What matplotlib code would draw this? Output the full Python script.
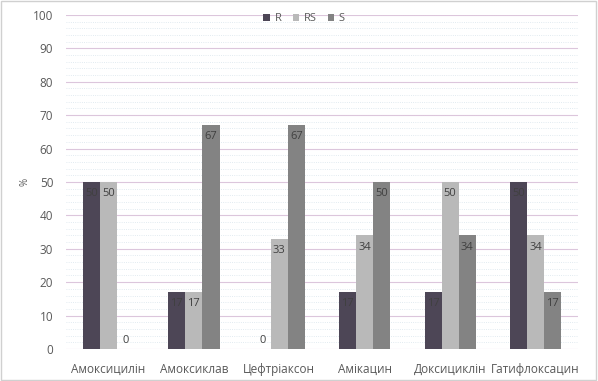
import numpy as np
import matplotlib.pyplot as plt

categories = ['Амоксицилін', 'Амоксиклав', 'Цефтріаксон', 'Амікацин', 'Доксициклін', 'Гатифлоксацин']
r_vals = [50, 17, 0, 17, 17, 50]
rs_vals = [50, 17, 33, 34, 50, 34]
s_vals = [0, 67, 67, 50, 34, 17]
series = [('R', r_vals, '#4d4656'), ('RS', rs_vals, '#b9b9b9'), ('S', s_vals, '#838383')]

plt.rcParams['font.family'] = ['Open Sans', 'DejaVu Sans']

fig = plt.figure(figsize=(5.98, 3.81), dpi=100)
ax = fig.add_axes([0.110, 0.084, 0.857, 0.877])

x = np.arange(len(categories))
w = 0.2
for i, (name, vals, col) in enumerate(series):
    pos = x + (i - 1) * w
    bars = ax.bar(pos, vals, width=w, color=col, label=name, zorder=3)
    for xp, v in zip(pos, vals):
        if v == 0:
            ax.text(xp, 2.5, '0', ha='center', va='center', fontsize=8, color='#404040', zorder=4)
        else:
            ax.text(xp, v - 3.5, str(v), ha='center', va='center', fontsize=8, color='#404040', zorder=4)

ax.set_xlim(-0.5, len(categories) - 0.5)
ax.set_ylim(0, 100)
ax.set_yticks(range(0, 101, 10))
ax.set_yticks(range(0, 101, 2), minor=True)
ax.set_xticks(x)
ax.set_xticklabels(categories)
ax.grid(axis='y', which='major', color='#dcc6dc', linewidth=0.8, zorder=0)
ax.grid(axis='y', which='minor', color='#d8e4ec', linewidth=0.6, linestyle=':', zorder=0)
ax.tick_params(axis='both', which='both', length=0, labelsize=8.5, labelcolor='#595959')
ax.tick_params(axis='y', pad=9)
ax.tick_params(axis='x', pad=10)
for s in ax.spines.values():
    s.set_visible(False)
ax.set_ylabel('%', fontsize=7, color='#595959', labelpad=2)

ax.legend(loc='upper center', bbox_to_anchor=(0.465, 1.035), ncol=3, frameon=False,
          fontsize=8, handlelength=0.6, handleheight=0.6, columnspacing=1.0,
          handletextpad=0.4, labelcolor='#595959')

fig.patches.append(plt.Rectangle((0.002, 0.003), 0.995, 0.994, transform=fig.transFigure,
                                 fill=False, edgecolor='#d0d0d0', linewidth=1))

fig.savefig('out.png', dpi=100)
